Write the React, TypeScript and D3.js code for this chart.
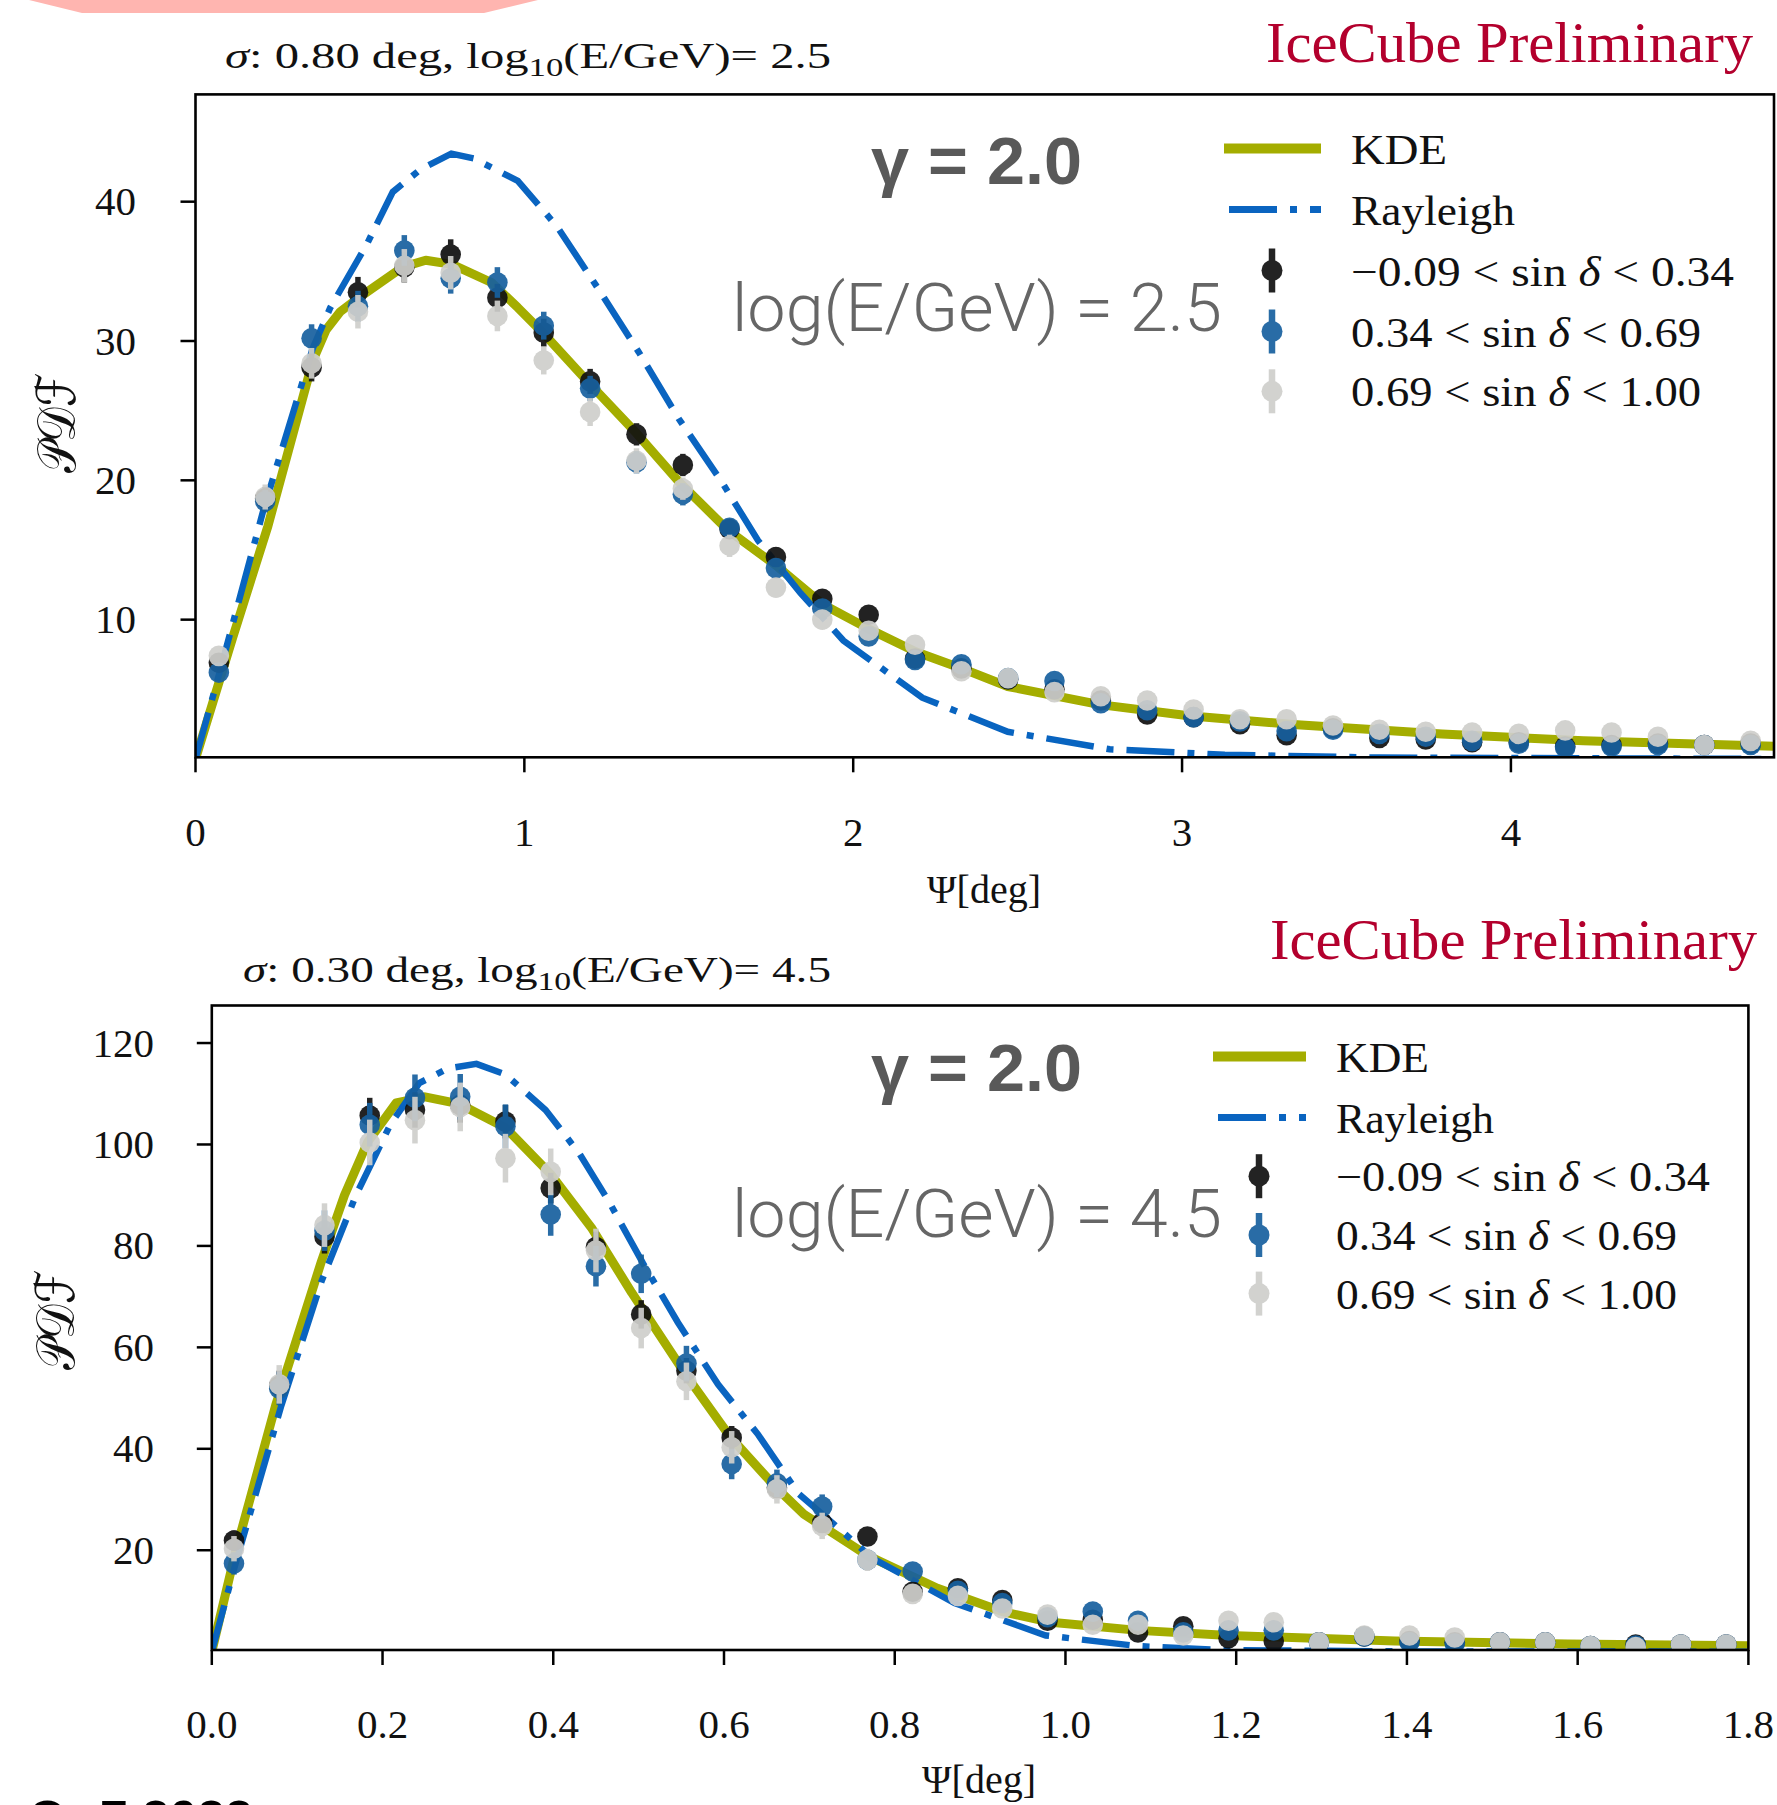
import React from "react";
import * as d3 from "d3";

// ---------- TOP PANEL DATA (sigma 0.80 deg, log10 E = 2.5) ----------
const topPsi = [0.071, 0.212, 0.353, 0.494, 0.635, 0.776, 0.918, 1.059, 1.2, 1.341, 1.482, 1.624, 1.765, 1.906, 2.047, 2.188, 2.329, 2.471, 2.612, 2.753, 2.894, 3.035, 3.176, 3.318, 3.459, 3.6, 3.741, 3.882, 4.024, 4.165, 4.306, 4.447, 4.588, 4.729];
const topBlack = [6.9, 18.7, 28.1, 33.5, 35.3, 36.2, 33.1, 30.6, 27.1, 23.3, 21.1, 16.5, 14.5, 11.5, 10.35, 7.2, 6.5, 5.7, 5.0, 4.2, 3.2, 3.0, 2.5, 1.7, 2.2, 1.5, 1.4, 1.2, 1.2, 0.9, 1.0, 1.1, 1.0, 1.1];
const topBlue = [6.2, 18.5, 30.2, 32.5, 36.5, 34.5, 34.2, 31.1, 26.6, 21.3, 19.0, 16.6, 13.7, 10.8, 8.8, 7.1, 6.8, 5.8, 5.6, 4.0, 3.5, 3.0, 2.7, 2.0, 2.1, 1.8, 1.6, 1.3, 1.1, 0.8, 0.9, 1.0, 1.0, 1.0];
const topGray = [7.4, 18.8, 28.4, 32.1, 35.4, 34.9, 31.8, 28.6, 24.9, 21.4, 19.4, 15.3, 12.3, 10.0, 9.2, 8.2, 6.3, 5.8, 4.8, 4.5, 4.2, 3.55, 2.85, 2.85, 2.4, 2.1, 1.95, 1.9, 1.8, 2.05, 1.9, 1.6, 1.0, 1.3];
const topErrBlack = [0.5, 0.8, 1.0, 1.1, 1.1, 1.1, 1.0, 1.0, 0.9, 0.8, 0.8, 0.7, 0.7, 0.6, 0.6, 0.5, 0.5, 0.5, 0.4, 0.4, 0.4, 0.4, 0.3, 0.3, 0.3, 0.3, 0.3, 0.3, 0.3, 0.3, 0.3, 0.3, 0.3, 0.3];
const topErrBlue = [0.5, 0.8, 1.0, 1.1, 1.1, 1.1, 1.1, 1.0, 0.9, 0.8, 0.8, 0.7, 0.7, 0.6, 0.6, 0.5, 0.5, 0.5, 0.4, 0.4, 0.4, 0.4, 0.3, 0.3, 0.3, 0.3, 0.3, 0.3, 0.3, 0.3, 0.3, 0.3, 0.3, 0.3];
const topErrGray = [0.6, 0.9, 1.1, 1.2, 1.2, 1.2, 1.1, 1.0, 1.0, 0.9, 0.8, 0.8, 0.7, 0.7, 0.6, 0.6, 0.5, 0.5, 0.5, 0.4, 0.4, 0.4, 0.4, 0.3, 0.3, 0.3, 0.3, 0.3, 0.3, 0.3, 0.3, 0.3, 0.3, 0.3];
const topKdeX = [0, 0.113, 0.22, 0.357, 0.397, 0.44, 0.49, 0.63, 0.7, 0.78, 0.9, 0.98, 1.06, 1.2, 1.34, 1.47, 1.62, 1.77, 1.907, 2.05, 2.19, 2.33, 2.47, 2.75, 3.02, 3.35, 3.79, 4.22, 4.8];
const topKdeY = [0, 8.7, 16.7, 28.6, 30.8, 32.1, 33.0, 35.3, 35.8, 35.5, 34.2, 32.4, 30.5, 26.9, 23.4, 19.9, 16.4, 13.8, 11.1, 9.3, 7.7, 6.5, 5.2, 3.9, 3.1, 2.45, 1.8, 1.3, 0.92];
const topRayX = [0, 0.072, 0.208, 0.357, 0.41, 0.52, 0.6, 0.683, 0.778, 0.846, 0.98, 1.1, 1.226, 1.348, 1.47, 1.6, 1.71, 1.84, 1.97, 2.21, 2.47, 2.78, 3.13, 3.6, 4.8];
const topRayY = [0, 6.1, 18.0, 29.5, 32.4, 36.9, 40.7, 42.3, 43.45, 43.1, 41.5, 38.2, 33.7, 29.2, 24.4, 19.9, 15.7, 11.9, 8.5, 4.4, 1.95, 0.7, 0.3, 0.1, 0.0];
const topXTicks = [0, 1, 2, 3, 4];
const topYTicks = [10, 20, 30, 40];

// ---------- BOTTOM PANEL DATA (sigma 0.30 deg, log10 E = 4.5) ----------
const botPsi = [0.026, 0.079, 0.132, 0.185, 0.238, 0.291, 0.344, 0.397, 0.45, 0.503, 0.556, 0.609, 0.662, 0.715, 0.768, 0.821, 0.874, 0.926, 0.979, 1.032, 1.085, 1.138, 1.191, 1.244, 1.297, 1.35, 1.403, 1.456, 1.509, 1.562, 1.615, 1.668, 1.721, 1.774];
const botBlack = [21.9, 52.4, 81.8, 105.7, 106.8, 107.8, 104.5, 91.4, 79.8, 66.5, 55.4, 42.2, 32.3, 25.4, 22.7, 11.8, 12.5, 10.2, 6.1, 6.3, 3.8, 5.0, 2.65, 2.1, 1.85, 3.0, 2.1, 1.85, 1.85, 1.85, 1.1, 1.4, 1.4, 1.4];
const botBlue = [17.4, 51.9, 83.0, 103.9, 109.2, 109.4, 103.6, 86.2, 76.0, 74.5, 56.8, 37.0, 33.2, 28.6, 18.1, 15.8, 12.0, 9.6, 6.8, 7.9, 6.1, 3.8, 4.2, 4.2, 1.85, 3.0, 1.85, 1.6, 1.85, 1.85, 1.1, 1.2, 1.4, 1.4];
const botGray = [20.3, 52.7, 84.1, 100.4, 104.8, 107.4, 97.3, 94.6, 79.1, 63.8, 53.3, 40.3, 32.0, 24.8, 18.1, 11.4, 11.0, 8.5, 7.3, 5.3, 5.3, 3.2, 6.1, 5.8, 1.85, 3.2, 3.2, 2.8, 1.85, 1.85, 1.1, 0.9, 1.4, 1.4];
const botErrBlack = [2.0, 3.0, 3.3, 3.5, 3.5, 3.5, 3.3, 3.0, 3.0, 2.8, 2.5, 2.3, 2.0, 1.8, 1.6, 1.4, 1.3, 1.2, 1.1, 1.0, 0.9, 0.9, 0.8, 0.8, 0.7, 0.7, 0.7, 0.6, 0.6, 0.6, 0.5, 0.5, 0.5, 0.5];
const botErrBlue = [2.2, 3.3, 4.0, 4.3, 4.6, 4.5, 4.3, 4.2, 4.0, 3.8, 3.5, 3.0, 2.7, 2.4, 2.0, 1.8, 1.6, 1.4, 1.3, 1.2, 1.1, 1.0, 1.0, 1.0, 0.8, 0.8, 0.8, 0.7, 0.7, 0.7, 0.6, 0.6, 0.6, 0.6];
const botErrGray = [2.5, 3.8, 4.3, 4.5, 4.6, 4.8, 4.8, 4.6, 4.3, 4.0, 3.7, 3.2, 2.8, 2.6, 2.2, 1.9, 1.7, 1.5, 1.4, 1.3, 1.2, 1.1, 1.2, 1.2, 0.9, 0.9, 0.9, 0.8, 0.8, 0.8, 0.7, 0.7, 0.7, 0.7];
const botKdeX = [0, 0.0276, 0.0747, 0.1285, 0.1554, 0.1823, 0.216, 0.2496, 0.29, 0.344, 0.3977, 0.4447, 0.4918, 0.5557, 0.6075, 0.6613, 0.6936, 0.7676, 0.85, 0.926, 0.983, 1.085, 1.192, 1.386, 1.588, 1.8];
const botKdeY = [0, 19.5, 48.5, 77.0, 90.0, 100.4, 108.2, 109.4, 108.0, 103.3, 94.0, 83.6, 70.8, 54.5, 42.3, 32.3, 27.1, 19.0, 12.5, 7.9, 5.8, 4.2, 3.2, 2.1, 1.5, 1.15];
const botRayX = [0, 0.0276, 0.0814, 0.1285, 0.1689, 0.2093, 0.243, 0.2766, 0.31, 0.344, 0.391, 0.431, 0.465, 0.505, 0.546, 0.593, 0.64, 0.687, 0.727, 0.774, 0.87, 0.977, 1.085, 1.186, 1.4, 1.8];
const botRayY = [0, 17.2, 48.5, 73.0, 90.0, 104.0, 112.1, 115.0, 115.9, 113.8, 106.8, 98.1, 88.8, 76.6, 64.9, 52.7, 42.8, 31.2, 25.4, 18.4, 9.6, 3.2, 1.1, 0.3, 0.05, 0.0];
const botXTicks = [0, 0.2, 0.4, 0.6, 0.8, 1.0, 1.2, 1.4, 1.6, 1.8];
const botYTicks = [20, 40, 60, 80, 100, 120];

const seriesLabels = ["\u22120.09 < sin ", "0.34 < sin ", "0.69 < sin "];
const seriesLabelEnds = [" < 0.34", " < 0.69", " < 1.00"];

const KDE_COLOR = "#a4ad00";
const RAY_COLOR = "#0a64c0";
const PT_COLORS = ["#111111", "#17609f", "#cfcfcc"];
const SERIF = "'Liberation Serif', 'DejaVu Serif', serif";
const SANS = "'Liberation Sans', Arial, sans-serif";

type PanelCfg = {
  id: string;
  left: number; right: number; top: number; bottom: number;
  xDomain: [number, number]; yDomain: [number, number];
  xTicks: number[]; yTicks: number[]; xFmt: (v: number) => string;
  psi: number[]; series: number[][]; errs: number[][];
  kdeX: number[]; kdeY: number[]; rayX: number[]; rayY: number[];
  title: { x: number; y: number; len: number; sigma: string; logE: string };
  ice: { x: number; y: number; len: number };
  xLabelY: number; xLabelX: number; yLabelX: number; yLabelY: number;
  yTickRight: number; xTickBaseline: number;
  gamma: { x: number; y: number; len: number };
  logText: { x: number; y: number; len: number };
  legend: { lineX0: number; lineX1: number; markX: number; textX: number; rows: number[]; lens: number[] };
};

const panels: PanelCfg[] = [
  {
    id: "top", left: 195.5, right: 1774, top: 94.4, bottom: 757.3,
    xDomain: [0, 4.8], yDomain: [0.12, 47.7],
    xTicks: topXTicks, yTicks: topYTicks, xFmt: (v) => d3.format("d")(v),
    psi: topPsi, series: [topBlack, topBlue, topGray], errs: [topErrBlack, topErrBlue, topErrGray],
    kdeX: topKdeX, kdeY: topKdeY, rayX: topRayX, rayY: topRayY,
    title: { x: 225, y: 68, len: 606, sigma: "0.80", logE: "2.5" },
    ice: { x: 1266, y: 62, len: 487 },
    xLabelX: 984, xLabelY: 903, yLabelX: 56, yLabelY: 423,
    yTickRight: 136, xTickBaseline: 846,
    gamma: { x: 871, y: 184, len: 211 },
    logText: { x: 732, y: 331, len: 490 },
    legend: { lineX0: 1224, lineX1: 1321, markX: 1272, textX: 1351, rows: [148.5, 209.5, 270.5, 331.5, 391.3], lens: [96, 164, 383, 350, 350] },
  },
  {
    id: "bot", left: 211.8, right: 1748.4, top: 1005.5, bottom: 1650,
    xDomain: [0, 1.8], yDomain: [0.33, 127.4],
    xTicks: botXTicks, yTicks: botYTicks, xFmt: (v) => d3.format(".1f")(v),
    psi: botPsi, series: [botBlack, botBlue, botGray], errs: [botErrBlack, botErrBlue, botErrGray],
    kdeX: botKdeX, kdeY: botKdeY, rayX: botRayX, rayY: botRayY,
    title: { x: 243, y: 982, len: 588, sigma: "0.30", logE: "4.5" },
    ice: { x: 1270, y: 959, len: 487 },
    xLabelX: 979, xLabelY: 1793, yLabelX: 55, yLabelY: 1320,
    yTickRight: 154, xTickBaseline: 1738,
    gamma: { x: 871, y: 1091, len: 211 },
    logText: { x: 732, y: 1237, len: 490 },
    legend: { lineX0: 1213, lineX1: 1306, markX: 1259, textX: 1336, rows: [1056.5, 1117.5, 1176.2, 1235, 1293.6], lens: [93, 158, 374, 341, 341] },
  },
];

function Panel({ p }: { p: PanelCfg }) {
  const x = d3.scaleLinear().domain(p.xDomain).range([p.left, p.right]);
  const y = d3.scaleLinear().domain(p.yDomain).range([p.bottom, p.top]);
  const mk = (xs: number[], ys: number[]) =>
    d3.line<[number, number]>().x((d) => x(d[0])).y((d) => y(d[1]))(xs.map((v, i) => [v, ys[i]] as [number, number])) || "";
  const clipId = `clip-${p.id}`;
  const lg = p.legend;
  return (
    <g>
      <defs>
        <clipPath id={clipId}>
          <rect x={p.left} y={p.top} width={p.right - p.left} height={p.bottom - p.top} />
        </clipPath>
      </defs>
      {/* header texts */}
      <text x={p.title.x} y={p.title.y} fontFamily={SERIF} fontSize={35} textLength={p.title.len} lengthAdjust="spacingAndGlyphs" fill="#111">
        <tspan fontStyle="italic">σ</tspan>
        <tspan>{`: ${p.title.sigma} deg, log`}</tspan>
        <tspan dy={8} fontSize={25}>10</tspan>
        <tspan dy={-8}>{`(E/GeV)= ${p.title.logE}`}</tspan>
      </text>
      <text x={p.ice.x} y={p.ice.y} fontFamily={SERIF} fontSize={58} fill="#b3002d" textLength={p.ice.len} lengthAdjust="spacingAndGlyphs">IceCube Preliminary</text>

      {/* curves and points */}
      <g clipPath={`url(#${clipId})`}>
        <path d={mk(p.kdeX, p.kdeY)} fill="none" stroke={KDE_COLOR} strokeWidth={9} strokeLinejoin="round" />
        <path d={mk(p.rayX, p.rayY)} fill="none" stroke={RAY_COLOR} strokeWidth={6.5} strokeDasharray="48 13 7 13" />
        {p.series.map((vals, s) => (
          <g key={s} opacity={0.92}>
            {vals.map((v, i) => (
              <g key={i}>
                <line x1={x(p.psi[i])} x2={x(p.psi[i])} y1={y(v - p.errs[s][i])} y2={y(v + p.errs[s][i])} stroke={PT_COLORS[s]} strokeWidth={5.5} />
                <circle cx={x(p.psi[i])} cy={y(v)} r={10.3} fill={PT_COLORS[s]} />
              </g>
            ))}
          </g>
        ))}
      </g>

      {/* frame */}
      <rect x={p.left} y={p.top} width={p.right - p.left} height={p.bottom - p.top} fill="none" stroke="#000" strokeWidth={2.6} />

      {/* x ticks */}
      {p.xTicks.map((t) => (
        <g key={`xt${t}`}>
          <line x1={x(t)} x2={x(t)} y1={p.bottom} y2={p.bottom + 15} stroke="#000" strokeWidth={2.5} />
          <text x={x(t)} y={p.xTickBaseline} textAnchor="middle" fontFamily={SERIF} fontSize={41} fill="#111">{p.xFmt(t)}</text>
        </g>
      ))}
      {/* y ticks */}
      {p.yTicks.map((t) => (
        <g key={`yt${t}`}>
          <line x1={p.left - 15} x2={p.left} y1={y(t)} y2={y(t)} stroke="#000" strokeWidth={2.5} />
          <text x={p.yTickRight} y={y(t) + 13.5} textAnchor="end" fontFamily={SERIF} fontSize={41} fill="#111">{t}</text>
        </g>
      ))}

      {/* axis labels */}
      <text x={p.xLabelX} y={p.xLabelY} textAnchor="middle" fontFamily={SERIF} fontSize={40} fill="#111">Ψ[deg]</text>
      <text transform={`translate(${p.yLabelX},${p.yLabelY}) rotate(-90)`} textAnchor="middle" dominantBaseline="central" fontFamily={"'DejaVu Serif', 'DejaVu Sans', serif"} fontSize={54} fill="#111" textLength={100} lengthAdjust="spacingAndGlyphs">𝒫𝒟ℱ</text>

      {/* annotations */}
      <text x={p.gamma.x} y={p.gamma.y} fontFamily={SANS} fontWeight="bold" fontSize={67} fill="#595959" textLength={p.gamma.len} lengthAdjust="spacingAndGlyphs">γ = 2.0</text>
      <text x={p.logText.x} y={p.logText.y} fontFamily={"Roboto, 'Liberation Sans', sans-serif"} fontWeight={300} fontSize={66} fill="#666" textLength={p.logText.len} lengthAdjust="spacingAndGlyphs">{`log(E/GeV) = ${p.title.logE}`}</text>

      {/* legend */}
      <line x1={lg.lineX0} x2={lg.lineX1} y1={lg.rows[0]} y2={lg.rows[0]} stroke={KDE_COLOR} strokeWidth={10} />
      <text x={lg.textX} y={lg.rows[0] + 15} fontFamily={SERIF} fontSize={42} fill="#111" textLength={lg.lens[0]} lengthAdjust="spacingAndGlyphs">KDE</text>
      <line x1={lg.lineX0 + 5} x2={lg.lineX1} y1={lg.rows[1]} y2={lg.rows[1]} stroke={RAY_COLOR} strokeWidth={7} strokeDasharray="48 13 7 13" />
      <text x={lg.textX} y={lg.rows[1] + 15} fontFamily={SERIF} fontSize={42} fill="#111" textLength={lg.lens[1]} lengthAdjust="spacingAndGlyphs">Rayleigh</text>
      {seriesLabels.map((lab, s) => (
        <g key={`lg${s}`}>
          <g opacity={0.92}>
            <line x1={lg.markX} x2={lg.markX} y1={lg.rows[2 + s] - 22} y2={lg.rows[2 + s] + 22} stroke={PT_COLORS[s]} strokeWidth={6.5} />
            <circle cx={lg.markX} cy={lg.rows[2 + s]} r={10.5} fill={PT_COLORS[s]} />
          </g>
          <text x={lg.textX} y={lg.rows[2 + s] + 15} fontFamily={SERIF} fontSize={42} fill="#111" textLength={lg.lens[2 + s]} lengthAdjust="spacingAndGlyphs">
            <tspan>{lab}</tspan>
            <tspan fontStyle="italic">δ</tspan>
            <tspan>{seriesLabelEnds[s]}</tspan>
          </text>
        </g>
      ))}
    </g>
  );
}

export default function App() {
  return (
    <div style={{ position: "absolute", left: 0, top: 0, width: 1777, height: 1805, overflow: "hidden", background: "#fff" }}>
      <svg width={1777} height={1805} viewBox="0 0 1777 1805" style={{ display: "block" }}>
        <rect x={0} y={0} width={1777} height={1805} fill="#fff" />
        <polygon points="29,0 538,0 484,13 82,13" fill="#ffb5b0" />
        {panels.map((p) => (
          <Panel key={p.id} p={p} />
        ))}
        <text x={28} y={1836} fontFamily={SANS} fontWeight="bold" fontSize={50} fill="#000">O</text>
        <text x={100} y={1836} fontFamily={SANS} fontWeight="bold" fontSize={50} fill="#000">7 2022</text>
      </svg>
    </div>
  );
}
